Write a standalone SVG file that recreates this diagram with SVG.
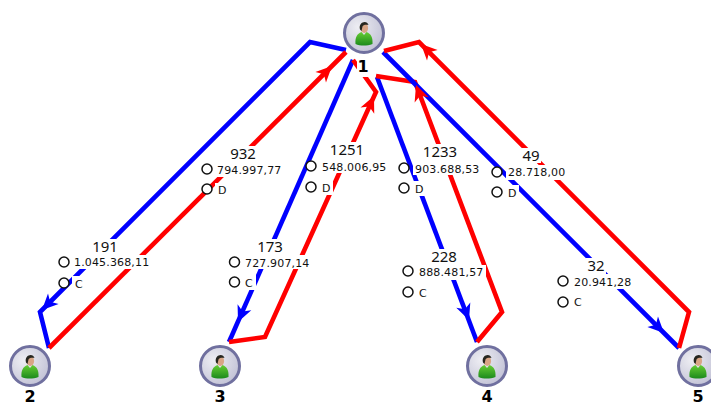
<svg xmlns="http://www.w3.org/2000/svg" width="711" height="406" viewBox="0 0 711 406">
<style>
.b{fill:none;stroke:#0000ff;stroke-width:4.600}
.r{fill:none;stroke:#ff0000;stroke-width:4.600}
.hb{fill:#0000ff}
.hr{fill:#ff0000}
.bg{fill:#fff}
.n{font:15px "Noto Sans",sans-serif;fill:#111;text-anchor:middle}
.v{font:11px "DejaVu Sans",sans-serif;fill:#111;letter-spacing:.15px}
.o{fill:#fff;stroke:#111;stroke-width:1.500}
.id{font:bold 16px "DejaVu Sans",sans-serif;fill:#000;text-anchor:middle}
</style>
<defs>
<radialGradient id="face" cx="0.35" cy="0.35" r="0.8"><stop offset="0" stop-color="#eeeef3"/><stop offset="1" stop-color="#bcbcd2"/></radialGradient>
<linearGradient id="shirt" x1="0" y1="0" x2="0" y2="1"><stop offset="0" stop-color="#66cc33"/><stop offset="1" stop-color="#1c8a1c"/></linearGradient>
<path id="head" d="M0 0L-16 -7.500L-11.500 0L-16 7.500Z"/>
<g id="user">
<circle r="19.500" fill="url(#face)" stroke="#70709f" stroke-width="3"/>
<path d="M-8.500 11C-9 4 -7 1 -2.500 -1L0 2L2.500 -1C7 1 9 4 8.500 11C3 13 -4 13 -8.500 11Z" fill="url(#shirt)"/>
<ellipse cx="0.300" cy="-5" rx="3.800" ry="5" fill="#d9a585"/>
<path d="M-4 -3.500C-6 -11 3 -13.500 4.500 -8C2.500 -8.500 -1 -8.500 -1.500 -6.500L-2.500 -2Z" fill="#26261f"/>
</g>
</defs>
<g id="connectors">
<path class="b" d="M346 50L310 42L40 312L49 348"/>
<path class="r" d="M49 348L346 52"/>
<path class="b" d="M353 60L229 342"/>
<path class="r" d="M229 342L265 337L376 92L353 60"/>
<path class="b" d="M377 77L477 342"/>
<path class="r" d="M477 342L502 312L415 82L376 76"/>
<path class="b" d="M383 52L679 348"/>
<path class="r" d="M679 348L689 312L419 42L384 51"/>
<use href="#head" class="hb" transform="translate(42 310) rotate(135)"/>
<use href="#head" class="hr" transform="translate(332 66) rotate(-45)"/>
<use href="#head" class="hb" transform="translate(238 322) rotate(113.700)"/>
<use href="#head" class="hr" transform="translate(374 96) rotate(-65.600)"/>
<use href="#head" class="hb" transform="translate(469 320) rotate(69.100)"/>
<use href="#head" class="hr" transform="translate(416 85) rotate(-110.700)"/>
<use href="#head" class="hb" transform="translate(664 333) rotate(45)"/>
<use href="#head" class="hr" transform="translate(421 44) rotate(-135)"/>
</g>
<g id="label-1-2">
<rect class="bg" x="91" y="239" width="28" height="16"/><rect class="bg" x="72" y="255" width="80" height="14"/><rect class="bg" x="72" y="276" width="12" height="14"/>
<text class="n" x="105" y="252">191</text><circle class="o" cx="64" cy="262" r="5"/><text class="v" x="74" y="266">1.045.368,11</text><circle class="o" cx="64" cy="283" r="5"/><text class="v" x="75" y="288">C</text>
</g>
<g id="label-2-1">
<rect class="bg" x="229" y="146" width="28" height="16"/><rect class="bg" x="215" y="162" width="68" height="15"/><rect class="bg" x="215" y="183" width="12" height="14"/>
<text class="n" x="243" y="159">932</text><circle class="o" cx="207" cy="169" r="5"/><text class="v" x="217" y="174">794.997,77</text><circle class="o" cx="207" cy="189" r="5"/><text class="v" x="218" y="194">D</text>
</g>
<g id="label-3-1">
<rect class="bg" x="328" y="142" width="38" height="16"/><rect class="bg" x="320" y="158" width="68" height="15"/><rect class="bg" x="320" y="180" width="13" height="15"/>
<text class="n" x="347" y="155">1251</text><circle class="o" cx="311" cy="166" r="5"/><text class="v" x="322" y="171">548.006,95</text><circle class="o" cx="311" cy="187" r="5"/><text class="v" x="322" y="192">D</text>
</g>
<g id="label-1-3">
<rect class="bg" x="256" y="239" width="28" height="16"/><rect class="bg" x="243" y="255" width="68" height="14"/><rect class="bg" x="243" y="275" width="13" height="15"/>
<text class="n" x="270" y="252">173</text><circle class="o" cx="234.500" cy="262" r="5"/><text class="v" x="245" y="267">727.907,14</text><circle class="o" cx="234.500" cy="282" r="5"/><text class="v" x="245" y="287">C</text>
</g>
<g id="label-4-1">
<rect class="bg" x="421" y="144" width="38" height="16"/><rect class="bg" x="413" y="160" width="69" height="15"/><rect class="bg" x="413" y="181" width="13" height="15"/>
<text class="n" x="440" y="157">1233</text><circle class="o" cx="404" cy="168" r="5"/><text class="v" x="415" y="173">903.688,53</text><circle class="o" cx="404" cy="188" r="5"/><text class="v" x="415" y="193">D</text>
</g>
<g id="label-1-4">
<rect class="bg" x="430" y="249" width="28" height="16"/><rect class="bg" x="417" y="265" width="69" height="15"/><rect class="bg" x="417" y="285" width="13" height="15"/>
<text class="n" x="444" y="262">228</text><circle class="o" cx="408" cy="271" r="5"/><text class="v" x="419" y="276">888.481,57</text><circle class="o" cx="408" cy="292" r="5"/><text class="v" x="419" y="297">C</text>
</g>
<g id="label-5-1">
<rect class="bg" x="521" y="148" width="20" height="15"/><rect class="bg" x="506" y="165" width="61" height="15"/><rect class="bg" x="506" y="185" width="13" height="15"/>
<text class="n" x="531" y="161">49</text><circle class="o" cx="497" cy="172" r="5"/><text class="v" x="508" y="176">28.718,00</text><circle class="o" cx="497" cy="192" r="5"/><text class="v" x="508" y="197">D</text>
</g>
<g id="label-1-5">
<rect class="bg" x="586" y="258" width="20" height="16"/><rect class="bg" x="572" y="274" width="62" height="15"/><rect class="bg" x="572" y="295" width="13" height="15"/>
<text class="n" x="596" y="271">32</text><circle class="o" cx="563" cy="281" r="5"/><text class="v" x="574" y="286">20.941,28</text><circle class="o" cx="563" cy="302" r="5"/><text class="v" x="574" y="306">C</text>
</g>
<g id="node-1"><use href="#user" x="364" y="33"/><rect class="bg" x="357" y="59" width="13" height="18"/><text class="id" x="363" y="72">1</text></g>
<g id="node-2"><use href="#user" x="30" y="366"/><text class="id" x="30" y="402">2</text></g>
<g id="node-3"><use href="#user" x="220" y="366"/><text class="id" x="220" y="402">3</text></g>
<g id="node-4"><use href="#user" x="487" y="366"/><text class="id" x="487" y="402">4</text></g>
<g id="node-5"><use href="#user" x="698" y="366"/><text class="id" x="698" y="402">5</text></g>
</svg>
